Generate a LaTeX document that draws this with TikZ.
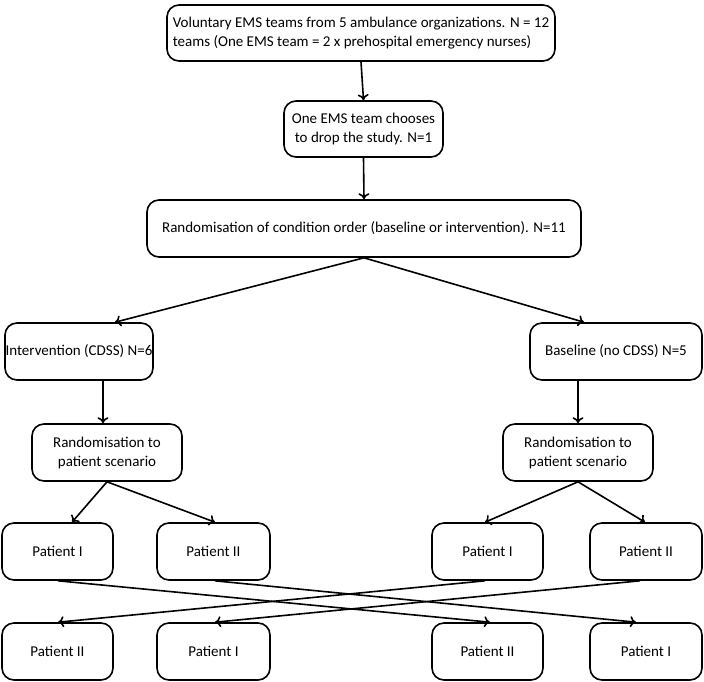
\documentclass[tikz,border=0pt]{standalone}
\usepackage{fontspec}
\setmainfont{Carlito}
\usetikzlibrary{arrows.meta}
\begin{document}
\begin{tikzpicture}[x=1pt,y=-1pt,
 box/.style={draw,line width=1.6pt,rounded corners=12pt,font=\fontsize{15}{19}\selectfont,inner sep=0pt,align=center},
 arr/.style={line width=1.6pt,-{To[length=6pt,width=11pt]}}]
\useasboundingbox (0,0) rectangle (704,681);
\newcommand{\bx}[6]{\node[box,minimum width=#3-#2,minimum height=#5-#4] (#1) at ({(#2+#3)/2},{(#4+#5)/2}) {#6};}
\bx{b1}{167}{555}{5}{61}{\begin{tabular}{@{}l@{}}Voluntary EMS teams from 5 ambulance organizations. N = 12\\teams (One EMS team = 2 x prehospital emergency nurses)\end{tabular}}
\bx{b2}{284}{443}{101}{157}{One EMS team chooses\\to drop the study. N=1}
\bx{b3}{147}{581}{200}{257}{Randomisation of condition order (baseline or intervention). N=11}
\bx{il}{5}{153}{323}{380}{Intervention (CDSS) N=6}
\bx{bl}{530}{702}{323}{380}{Baseline (no CDSS) N=5}
\bx{rl}{32}{182}{424}{481}{Randomisation to\\patient scenario}
\bx{rr}{503}{653}{424}{481}{Randomisation to\\patient scenario}
\bx{p1}{2}{113}{523}{580}{Patient I}
\bx{p2}{157}{270}{523}{580}{Patient II}
\bx{p3}{432}{543}{523}{580}{Patient I}
\bx{p4}{590}{702}{523}{580}{Patient II}
\bx{q1}{2}{113}{623}{680}{Patient II}
\bx{q2}{157}{270}{623}{680}{Patient I}
\bx{q3}{432}{543}{623}{680}{Patient II}
\bx{q4}{590}{702}{623}{680}{Patient I}
\draw[arr] (b1.south) -- (b2.north);
\draw[arr] (b2.south) -- (b3.north);
\draw[arr] (b3.south) -- (il.north -| 115,0);
\draw[arr] (b3.south) -- (bl.north -| 584,0);
\draw[arr] (il.south -| 103,0) -- (rl.north -| 103,0);
\draw[arr] (bl.south -| 578,0) -- (rr.north -| 578,0);
\draw[arr] (rl.south) -- (p1.north -| 72,0);
\draw[arr] (rl.south) -- (p2.north -| 215,0);
\draw[arr] (rr.south) -- (p3.north -| 485,0);
\draw[arr] (rr.south) -- (p4.north -| 645,0);
\draw[arr] (p1.south -| 58,0) -- (q3.north -| 490,0);
\draw[arr] (p2.south -| 215,0) -- (q4.north -| 636,0);
\draw[arr] (p3.south -| 485,0) -- (q1.north -| 58,0);
\draw[arr] (p4.south -| 640,0) -- (q2.north -| 215,0);
\end{tikzpicture}
\end{document}
